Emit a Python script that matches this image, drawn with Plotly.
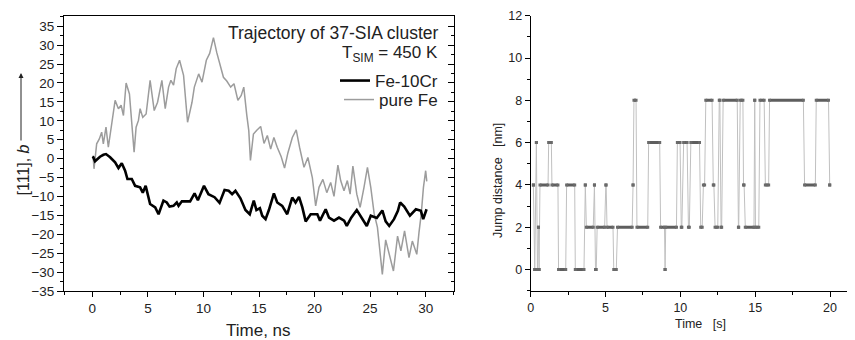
import plotly.graph_objects as go

# the page body adds an 8 px margin, so the figure is made 8 px smaller and
# every layout position is given in reference-window pixels through px()/py()
OFF = 8
W, H = 855 - OFF, 340 - OFF


def px(x):
    return (x - OFF) / W


def py(y):
    return (340 - y) / H


# ---------------- left panel data: trajectory of 37-SIA cluster ----------------
fecr_time = [0.0, 0.09, 0.24, 0.69, 1.0, 1.23, 1.6, 2.05, 2.35, 2.65,
             2.95, 3.16, 3.55, 3.85, 4.3, 4.54, 4.8, 5.2, 5.66, 5.96,
             6.4, 6.7, 6.95, 7.3, 7.6, 7.76, 8.06, 8.8, 9.2, 9.5,
             10.05, 10.45, 11.0, 11.45, 11.9, 12.27, 12.58, 12.88, 13.33, 13.78,
             14.17, 14.53, 14.77, 15.08, 15.29, 15.59, 15.89, 16.34, 16.64, 17.09,
             17.54, 17.99, 18.29, 18.6, 18.9, 19.2, 19.65, 20.25, 20.49, 21.0,
             21.3, 21.75, 22.2, 22.66, 22.9, 23.3, 23.8, 24.2, 24.7, 25.06,
             25.6, 26.1, 26.4, 26.72, 27.15, 27.5, 27.7, 28.07, 28.58, 29.12,
             29.57, 29.78, 30.08]
fecr_pos = [0.5, 0.35, -0.7, 0.5, 1.0, 1.2, 0.35, -1, -2.5, -1.2,
            -3.2, -5.4, -5.4, -7.2, -7.6, -9, -7.2, -12, -12.9, -14.7,
            -11.1, -11.6, -12.7, -12.5, -11.6, -12.5, -11.3, -11.3, -9.2, -11,
            -7.2, -9.4, -10.2, -11.7, -8.3, -8.5, -9.4, -8.5, -10.5, -13.6,
            -14.7, -11.1, -13.6, -13.1, -15.1, -16, -13.6, -9.2, -11.6, -12.5,
            -14.7, -10.3, -11.6, -10.1, -12.9, -16.6, -14.7, -14.7, -16.4, -13.4,
            -15.6, -16.4, -15.6, -16.4, -17.8, -15.6, -13.6, -15.6, -17.8, -15.1,
            -15.7, -13.7, -16.6, -17.8, -16, -13.8, -11.6, -12.7, -15.1, -13.4,
            -13.8, -16, -13.4]

fe_time = [0.0, 0.09, 0.15, 0.39, 0.63, 0.84, 0.99, 1.23, 1.44, 1.66,
           1.84, 2.05, 2.35, 2.59, 2.8, 3.04, 3.34, 3.55, 3.76, 3.94,
           4.15, 4.3, 4.54, 4.84, 5.2, 5.57, 5.87, 6.26, 6.56, 6.86,
           7.07, 7.31, 7.55, 7.85, 8.21, 8.57, 8.97, 9.18, 9.57, 9.87,
           10.26, 10.56, 10.9, 11.2, 11.5, 11.8, 12.1, 12.45, 12.75, 13.1,
           13.4, 13.63, 13.9, 14.08, 14.23, 14.5, 14.8, 15.15, 15.45, 15.75,
           16.05, 16.34, 16.64, 17.0, 17.3, 17.6, 18.0, 18.35, 18.65, 19.05,
           19.4, 19.8, 20.1, 20.4, 20.75, 21.1, 21.45, 21.75, 22.1, 22.35,
           22.65, 22.95, 23.2, 23.45, 23.8, 24.1, 24.45, 24.76, 25.06, 25.36,
           25.66, 25.9, 26.1, 26.4, 26.7, 27.1, 27.47, 27.77, 28.1, 28.5,
           28.8, 29.2, 29.4, 29.6, 29.8, 30.0, 30.1]
fe_pos = [0, -0.1, -2.7, 3.9, 5.2, 7, 3.9, 8.3, 3, 7.4,
          11.4, 15.4, 13.2, 14.1, 11.4, 20, 17.1, 8.3, 1.7, 8.3,
          10.1, 13.2, 10.9, 11.8, 20.7, 12.7, 14.9, 20.7, 13.2, 18.9,
          20.7, 19.4, 23.8, 26, 22, 9.6, 14.9, 18.9, 22.4, 20.2,
          26, 27.8, 32, 28, 24.5, 21.5, 20.5, 18.9, 19.8, 15.4,
          16.7, 18.9, 11.5, 7.4, -0.5, 6.5, 7.5, 8.5, 4, 6.1,
          2.5, 5.6, 3, 0.5, -2.5, 1.5, 5.6, 7.6, 3, -2.3,
          0.3, -5, -12.5, -7.6, -5.5, -9, -6.3, -10, -1.7, -5.8,
          -8.5, -5.8, -9.4, -2, -9.4, -12.9, -7.6, -2.3, -7.6, -14.5,
          -18.2, -25.3, -30.6, -21.5, -25.3, -29.7, -20.5, -24.4, -19.1, -26.2,
          -21.8, -25.3, -19.5, -14.7, -7.6, -3.2, -6]

left_xticks = [0, 5, 10, 15, 20, 25, 30]
left_yticks = [-35, -30, -25, -20, -15, -10, -5, 0, 5, 10, 15, 20, 25, 30, 35]

# ---------------- right panel data: jump distance plateaus ----------------
seg_start = [0.18, 0.27, 0.38, 0.45, 0.52, 0.56, 0.62, 1.2, 1.42, 1.86,
             2.4, 2.98, 3.65, 3.72, 4.26, 4.33, 4.44, 5.02, 5.1, 5.55,
             5.8, 6.84, 6.9, 7.1, 7.88, 8.68, 8.98, 9.02, 9.8, 10.06,
             10.22, 10.54, 10.7, 11.36, 11.54, 11.7, 12.2, 12.32, 12.6, 12.72,
             12.86, 13.88, 14.0, 14.22, 14.34, 14.97, 15.02, 15.32, 15.68, 15.96,
             18.3, 19.08, 19.98]
seg_end = [0.18, 0.27, 0.38, 0.45, 0.52, 0.56, 1.16, 1.38, 1.82, 2.34,
           2.94, 3.56, 3.65, 4.18, 4.26, 4.38, 4.94, 5.04, 5.5, 5.72,
           6.78, 6.84, 7.04, 7.82, 8.62, 8.94, 8.98, 9.74, 9.98, 10.1,
           10.45, 10.6, 11.28, 11.46, 11.62, 12.12, 12.24, 12.5, 12.64, 12.76,
           13.8, 13.9, 14.18, 14.26, 14.92, 14.97, 15.24, 15.6, 15.9, 18.22,
           19.02, 19.9, 19.98]
seg_level = [4, 0, 6, 0, 2, 0, 4, 6, 4, 0,
             4, 0, 4, 2, 4, 0, 2, 4, 2, 0,
             2, 4, 8, 2, 6, 2, 0, 2, 6, 2,
             6, 2, 6, 2, 4, 8, 4, 2, 8, 2,
             8, 2, 8, 4, 2, 8, 2, 8, 4, 8,
             4, 8, 4]

right_xticks = [0, 5, 10, 15, 20]
right_yticks = [0, 2, 4, 6, 8, 10, 12]

FONT = "Liberation Sans, Arial, sans-serif"
TXT = "#222"

# build the step series from the plateau endpoints
line_x, line_y, bar_x, bar_y = [], [], [], []
for s, e, lv in zip(seg_start, seg_end, seg_level):
    line_x += [s, e]
    line_y += [lv, lv]
    bar_x += [s, e, None]
    bar_y += [lv, lv, None]

fig = go.Figure()

fig.add_trace(go.Scatter(x=fe_time, y=fe_pos, mode="lines", name="pure Fe",
                         line=dict(color="#9c9c9c", width=1.5),
                         xaxis="x", yaxis="y", legend="legend2"))
fig.add_trace(go.Scatter(x=fecr_time, y=fecr_pos, mode="lines", name="Fe-10Cr",
                         line=dict(color="black", width=2.6),
                         xaxis="x", yaxis="y", legend="legend"))
fig.add_trace(go.Scatter(x=[None], y=[None], xaxis="x", yaxis="y3",
                         showlegend=False, hoverinfo="skip"))

fig.add_trace(go.Scatter(x=line_x, y=line_y, mode="lines",
                         line=dict(color="#c0c0c0", width=1),
                         xaxis="x2", yaxis="y2", showlegend=False))
fig.add_trace(go.Scatter(x=bar_x, y=bar_y, mode="lines+markers",
                         line=dict(color="#5e5e5e", width=3),
                         marker=dict(symbol="square", size=3, color="#6a6a6a"),
                         xaxis="x2", yaxis="y2", showlegend=False))

ax_common = dict(showgrid=False, zeroline=False, showline=True, linecolor="black",
                 linewidth=1, tickcolor="black", tickwidth=1, automargin=False)

lfont = dict(family=FONT, size=13.5, color=TXT)
rfont = dict(family=FONT, size=12.5, color=TXT)

ldom_y = [py(291), py(16)]
rdom_y = [py(290.7), py(15.7)]

fig.update_layout(
    template="none",
    width=W, height=H, margin=dict(l=0, r=0, t=0, b=0, pad=0),
    paper_bgcolor="white", plot_bgcolor="white",
    font=dict(family=FONT, color=TXT),
    xaxis=dict(domain=[px(64), px(454)], range=[-2.55, 32.55], anchor="y",
               tickvals=left_xticks, ticks="outside", ticklen=5, mirror=True,
               tickfont=lfont,
               minor=dict(dtick=2.5, tick0=0, ticks="outside", ticklen=3,
                          tickcolor="black", showgrid=False),
               **ax_common),
    yaxis=dict(domain=ldom_y, range=[-35, 37.7], anchor="x",
               tickvals=left_yticks, ticks="outside", ticklen=6, mirror=True,
               tickfont=lfont,
               minor=dict(dtick=2.5, tick0=0, ticks="outside", ticklen=3,
                          tickcolor="black", showgrid=False),
               **ax_common),
    yaxis3=dict(overlaying="y", side="right", anchor="x", range=[-35, 37.7],
                tickvals=left_yticks, ticks="inside", ticklen=6,
                showticklabels=False, showgrid=False, zeroline=False,
                showline=True, linecolor="black", linewidth=1,
                tickcolor="black", automargin=False,
                minor=dict(dtick=2.5, tick0=0, ticks="inside", ticklen=3,
                           tickcolor="black", showgrid=False)),
    xaxis2=dict(domain=[px(530.7), 1.0], range=[0, 21.67], anchor="y2",
                tickvals=right_xticks, ticks="outside", ticklen=5,
                tickfont=rfont,
                minor=dict(dtick=2.5, tick0=0, ticks="outside", ticklen=3,
                           tickcolor="black", showgrid=False),
                **ax_common),
    yaxis2=dict(domain=rdom_y, range=[-1, 12], anchor="x2",
                tickvals=right_yticks, ticks="outside", ticklen=5,
                tickfont=rfont,
                minor=dict(dtick=1, tick0=0, ticks="outside", ticklen=3,
                           tickcolor="black", showgrid=False),
                **ax_common),
    legend=dict(x=px(443), xanchor="right", y=py(81), yanchor="middle",
                bgcolor="rgba(0,0,0,0)", font=dict(family=FONT, size=17, color=TXT),
                itemwidth=30, borderwidth=0),
    legend2=dict(x=px(443), xanchor="right", y=py(100), yanchor="middle",
                 bgcolor="rgba(0,0,0,0)", font=dict(family=FONT, size=17, color=TXT),
                 itemwidth=30, borderwidth=0),
)

ann = [
    dict(text="Trajectory of 37-SIA cluster", x=px(441), y=py(33),
         xanchor="right", yanchor="middle", font=dict(size=17.5)),
    dict(text="T<sub>SIM</sub> = 450 K", x=px(440), y=py(54),
         xanchor="right", yanchor="middle", font=dict(size=17)),
    dict(text="Time, ns", x=px(259), y=py(330), xanchor="center",
         yanchor="middle", font=dict(size=17)),
    dict(text="[111], <i>b</i>", x=px(22.5), y=py(170), textangle=-90,
         xanchor="center", yanchor="middle", font=dict(size=16)),
    dict(text="Time\u00a0\u00a0\u00a0[s]", x=px(700), y=py(324),
         xanchor="center", yanchor="middle", font=dict(size=12.5)),
    dict(text="Jump distance\u00a0\u00a0\u00a0[nm]", x=px(498), y=py(180),
         textangle=-90, xanchor="center", yanchor="middle", font=dict(size=12.5)),
]
for a in ann:
    a.update(xref="paper", yref="paper", showarrow=False)
    a["font"].update(family=FONT, color=TXT)
    fig.add_annotation(**a)

# arrow next to the y-axis title
fig.add_annotation(text=" ", x=px(21), y=py(73), xref="paper", yref="paper",
                   ax=0, ay=70, showarrow=True, arrowhead=2, arrowsize=1,
                   arrowwidth=1, arrowcolor=TXT, standoff=0, startstandoff=0,
                   font=dict(size=2))

fig.write_html("out.html")
